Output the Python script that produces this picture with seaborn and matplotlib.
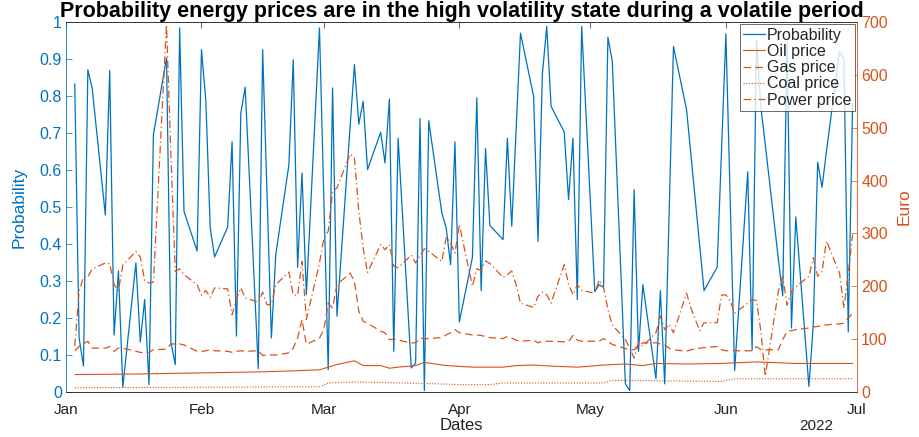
import matplotlib
matplotlib.use("Agg")
import matplotlib.pyplot as plt
import matplotlib.dates as mdates
import pandas as pd
import seaborn as sns

# ---- data -------------------------------------------------------------
year = "2022"

prob_dates = ["01-03", "01-04", "01-05", "01-06", "01-07", "01-10", "01-11", "01-12", "01-13", "01-14",
              "01-17", "01-18", "01-19", "01-20", "01-21", "01-24", "01-25", "01-26", "01-27", "01-28",
              "01-31", "02-01", "02-02", "02-03", "02-04", "02-07", "02-08", "02-09", "02-10", "02-11",
              "02-14", "02-15", "02-17", "02-18", "02-21", "02-22", "02-23", "02-24", "02-25", "02-28",
              "03-02", "03-03", "03-04", "03-08", "03-09", "03-10", "03-11", "03-14", "03-15", "03-16",
              "03-17", "03-18", "03-21", "03-22", "03-23", "03-24", "03-25", "03-28", "03-29", "03-30",
              "03-31", "04-01", "04-04", "04-05", "04-06", "04-07", "04-08", "04-11", "04-12", "04-13",
              "04-15", "04-18", "04-19", "04-20", "04-21", "04-22", "04-25", "04-26", "04-27", "04-28",
              "04-29", "05-02", "05-03", "05-04", "05-05", "05-06", "05-09", "05-10", "05-11", "05-12",
              "05-13", "05-16", "05-17", "05-18", "05-20", "05-23", "05-27", "05-30", "06-01", "06-03",
              "06-06", "06-07", "06-08", "06-09", "06-10", "06-13", "06-14", "06-15", "06-16", "06-17",
              "06-20", "06-21", "06-22", "06-23", "06-24", "06-27", "06-28", "06-29", "06-30"]
prob_values = [0.833, 0.146, 0.07, 0.871, 0.82, 0.478, 0.869, 0.154, 0.327, 0.013,
               0.349, 0.135, 0.25, 0.02, 0.695, 0.903, 0.135, 0.074, 0.984, 0.488,
               0.381, 0.925, 0.787, 0.443, 0.365, 0.446, 0.676, 0.151, 0.754, 0.824,
               0.063, 0.925, 0.146, 0.371, 0.614, 0.898, 0.337, 0.592, 0.263, 0.984,
               0.06, 0.822, 0.205, 0.885, 0.724, 0.786, 0.601, 0.702, 0.619, 0.792,
               0.11, 0.686, 0.065, 0.078, 0.739, 0.004, 0.733, 0.484, 0.443, 0.344,
               0.676, 0.189, 0.364, 0.795, 0.274, 0.658, 0.45, 0.412, 0.686, 0.448,
               0.97, 0.799, 0.407, 0.858, 0.988, 0.772, 0.703, 0.52, 0.686, 0.25,
               0.988, 0.272, 0.29, 0.283, 0.959, 0.894, 0.022, 0.004, 0.547, 0.11,
               0.29, 0.036, 0.274, 0.022, 0.934, 0.763, 0.274, 0.337, 0.968, 0.058,
               0.595, 0.113, 0.95, 0.77, 0.67, 0.36, 0.26, 0.95, 0.173, 0.473,
               0.015, 0.182, 0.621, 0.553, 0.65, 0.92, 0.9, 0.162, 0.78]

price_dates = ["01-03", "01-04", "01-05", "01-06", "01-07", "01-10", "01-11", "01-12", "01-13", "01-14",
               "01-17", "01-18", "01-19", "01-20", "01-21", "01-24", "01-25", "01-26", "01-27", "01-28",
               "01-31", "02-01", "02-02", "02-03", "02-04", "02-07", "02-08", "02-09", "02-10", "02-11",
               "02-14", "02-15", "02-16", "02-17", "02-18", "02-21", "02-22", "02-23", "02-24", "02-25",
               "02-28", "03-01", "03-02", "03-03", "03-04", "03-07", "03-08", "03-09", "03-10", "03-11",
               "03-14", "03-15", "03-16", "03-17", "03-18", "03-21", "03-22", "03-23", "03-24", "03-25",
               "03-28", "03-29", "03-30", "03-31", "04-01", "04-04", "04-05", "04-06", "04-07", "04-08",
               "04-11", "04-12", "04-13", "04-14", "04-15", "04-18", "04-19", "04-20", "04-21", "04-22",
               "04-25", "04-26", "04-27", "04-28", "04-29", "05-02", "05-03", "05-04", "05-05", "05-06",
               "05-09", "05-10", "05-11", "05-12", "05-13", "05-16", "05-17", "05-18", "05-19", "05-20",
               "05-23", "05-24", "05-25", "05-26", "05-27", "05-30", "05-31", "06-01", "06-02", "06-03",
               "06-06", "06-07", "06-08", "06-09", "06-10", "06-13", "06-14", "06-15", "06-16", "06-17",
               "06-20", "06-21", "06-22", "06-23", "06-24", "06-27", "06-28", "06-29", "06-30"]
power_values = [87, 190, 218, 218, 233, 244, 243, 203, 192, 240,
                266, 255, 211, 206, 208, 695, 450, 228, 233, 222,
                203, 183, 192, 179, 197, 195, 146, 175, 197, 178,
                170, 189, 165, 166, 203, 227, 184, 183, 247, 137,
                244, 291, 304, 380, 386, 450, 443, 342, 272, 226,
                279, 269, 279, 238, 235, 259, 244, 258, 271, 266,
                247, 293, 282, 263, 317, 200, 233, 230, 248, 243,
                217, 222, 229, 203, 168, 160, 181, 189, 184, 168,
                241, 204, 184, 203, 192, 187, 212, 198, 156, 127,
                99, 83, 64, 93, 87, 112, 144, 118, 128, 112,
                187, 159, 137, 116, 131, 131, 183, 184, 172, 149,
                168, 175, 173, 115, 30, 190, 219, 164, 190, 199,
                219, 254, 219, 228, 286, 225, 159, 225, 298]
gas_values = [78, 86, 92, 96, 83, 83, 86, 77, 83, 83,
              77, 75, 74, 75, 80, 81, 91, 91, 91, 89,
              77, 77, 78, 80, 78, 77, 75, 77, 78, 77,
              78, 69, 70, 70, 70, 74, 83, 102, 137, 90,
              102, 118, 168, 159, 203, 225, 209, 153, 134, 130,
              115, 112, 99, 100, 98, 93, 93, 102, 101, 101,
              103, 108, 112, 118, 112, 108, 108, 107, 105, 103,
              101, 105, 102, 98, 96, 98, 93, 96, 96, 96,
              95, 95, 107, 98, 96, 96, 96, 101, 96, 90,
              82, 80, 80, 89, 93, 93, 91, 89, 83, 80,
              77, 80, 82, 83, 84, 86, 80, 78, 78, 78,
              78, 78, 86, 80, 80, 80, 99, 115, 116, 118,
              121, 123, 124, 126, 127, 129, 130, 140, 149]

oil_dates = ["01-03", "01-17", "01-31", "02-14", "02-22", "02-28", "03-02", "03-04", "03-08", "03-10",
             "03-14", "03-16", "03-18", "03-22", "03-24", "03-29", "04-04", "04-11", "04-14", "04-18",
             "04-22", "04-28", "05-04", "05-09", "05-13", "05-16", "05-23", "05-31", "06-08", "06-17",
             "06-30"]
oil_values = [33, 34, 36, 38, 40, 42, 47, 52, 59, 50,
              50, 45, 47, 50, 56, 50, 47, 47, 50, 51,
              49, 47, 51, 53, 50, 54, 53, 54, 57, 54,
              54]

coal_dates = ["01-03", "02-28", "03-02", "03-08", "03-25", "04-01", "04-08", "04-11", "05-04", "05-06",
              "05-31", "06-03", "06-30"]
coal_values = [8, 10, 17, 19, 16, 14, 14, 17, 17, 22,
               20, 25, 25]

series_labels = ["Probability", "Oil price", "Gas price", "Coal price", "Power price"]
month_ticks = ["01-01", "02-01", "03-01", "04-01", "05-01", "06-01", "07-01"]
prob_ticks = [0, 0.1, 0.2, 0.3, 0.4, 0.5, 0.6, 0.7, 0.8, 0.9, 1]
euro_ticks = [0, 100, 200, 300, 400, 500, 600, 700]


def as_dates(days):
    return pd.to_datetime([f"{year}-{d}" for d in days])


prob_df = pd.DataFrame({"date": as_dates(prob_dates), "value": prob_values})
price_df = pd.DataFrame({"date": as_dates(price_dates), "power": power_values, "gas": gas_values})
oil_df = pd.DataFrame({"date": as_dates(oil_dates), "value": oil_values})
coal_df = pd.DataFrame({"date": as_dates(coal_dates), "value": coal_values})

# ---- style ------------------------------------------------------------
sns.set_style("white")
plt.rcParams["font.family"] = ["Liberation Sans", "DejaVu Sans"]
plt.rcParams["axes.linewidth"] = 0.6

BLUE = "#0072BD"
ORANGE = "#D95319"
AXIS = "#262626"

fig = plt.figure(figsize=(9.2, 4.37), dpi=100)
ax = fig.add_axes([66 / 920, 1 - 392 / 437, (857 - 66) / 920, (392 - 22) / 437])
ax2 = ax.twinx()

# left axis: probability
sns.lineplot(data=prob_df, x="date", y="value", ax=ax, color=BLUE, linewidth=0.9,
             label=series_labels[0], legend=False)

# right axis: prices in euro
sns.lineplot(data=oil_df, x="date", y="value", ax=ax2, color=ORANGE, linewidth=0.8,
             label=series_labels[1], legend=False)
sns.lineplot(data=price_df, x="date", y="gas", ax=ax2, color=ORANGE, linewidth=0.9,
             linestyle=(0, (6, 3.5)), label=series_labels[2], legend=False)
sns.lineplot(data=coal_df, x="date", y="value", ax=ax2, color=ORANGE, linewidth=0.8,
             linestyle=(0, (1, 1.5)), label=series_labels[3], legend=False)
sns.lineplot(data=price_df, x="date", y="power", ax=ax2, color=ORANGE, linewidth=0.9,
             linestyle=(0, (6, 2.5, 1, 2.5)), label=series_labels[4], legend=False)

xt = as_dates(month_ticks)
for a in (ax, ax2):
    a.set_xlim(xt[0], xt[-1])
    a.xaxis.set_major_locator(mdates.MonthLocator())
    a.xaxis.set_major_formatter(mdates.DateFormatter("%b"))

ax.set_ylim(0, 1)
ax.set_yticks(prob_ticks)
ax.set_yticklabels([f"{t:g}" for t in prob_ticks])
ax2.set_ylim(0, 700)
ax2.set_yticks(euro_ticks)
ax2.set_yticklabels([str(t) for t in euro_ticks])

ax.tick_params(axis="x", direction="in", length=4, width=0.5, color=AXIS, labelsize=11,
               labelcolor="#222222", top=True, pad=8)
ax2.tick_params(axis="x", direction="in", length=4, width=0.5, color=AXIS, top=True)
ax.tick_params(axis="y", direction="in", length=4, width=0.5, colors=BLUE, labelsize=11.5, pad=3)
ax2.tick_params(axis="y", direction="in", length=4, width=0.5, colors=ORANGE, labelsize=11.5, pad=3)

for a in (ax, ax2):
    for side in ("top", "bottom"):
        a.spines[side].set_color(AXIS)
        a.spines[side].set_linewidth(0.5)
ax.spines["left"].set_color(BLUE)
ax2.spines["left"].set_visible(False)
ax.spines["right"].set_visible(False)
ax2.spines["right"].set_color(ORANGE)

ax.set_xlabel("Dates", fontsize=12, color="#222222", labelpad=1)
ax.set_ylabel("Probability", fontsize=12.5, color=BLUE, labelpad=9)
ax2.set_ylabel("Euro", fontsize=12.5, color=ORANGE, labelpad=6)
ax.text(0.948, -0.072, year, transform=ax.transAxes, ha="center", va="top",
        fontsize=11, color="#222222")

ax.set_title("Probability energy prices are in the high volatility state during a volatile period",
             fontsize=15.5, fontweight="bold", color="black", pad=2)

handles = ax.get_lines()[:1] + ax2.get_lines()[:4]
leg = ax2.legend(handles, series_labels, loc="upper right", fontsize=11.5, frameon=True,
                 fancybox=False, borderpad=0.2, labelspacing=0.08, handlelength=1.4,
                 handletextpad=0.1, borderaxespad=0.15)
leg.get_frame().set_edgecolor(AXIS)
leg.get_frame().set_linewidth(0.6)

fig.savefig("out.png", dpi=100)
